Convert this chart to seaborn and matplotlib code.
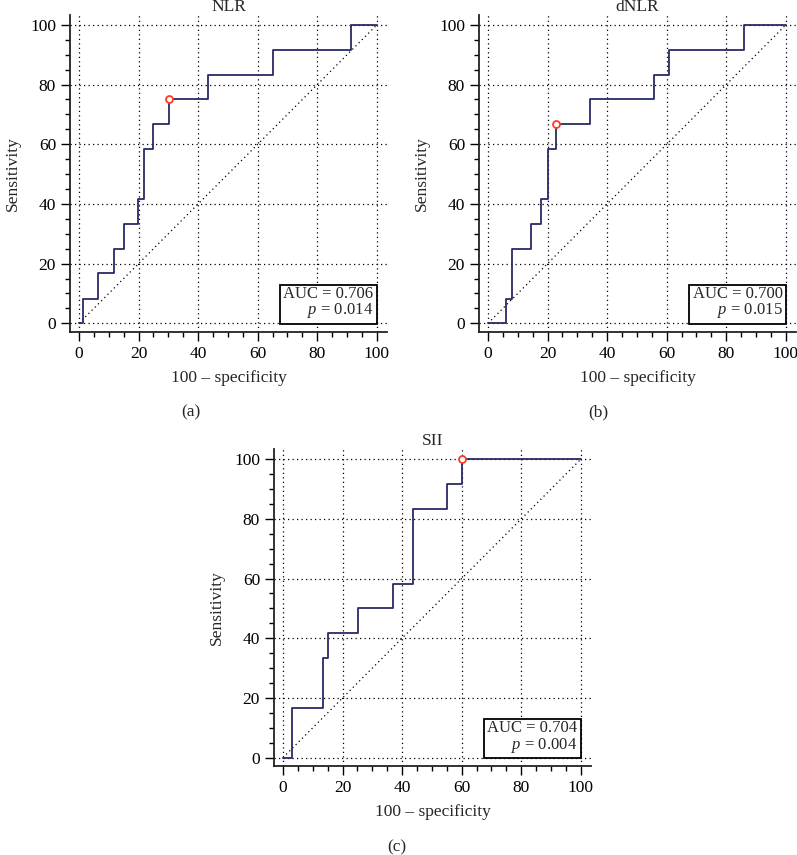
import numpy as np
import pandas as pd
import matplotlib
matplotlib.use("Agg")
import matplotlib.pyplot as plt
from matplotlib.ticker import MultipleLocator
import seaborn as sns

# ROC step coordinates (100 - specificity, sensitivity)
nlr_fpr = [0, 1.5, 6.5, 11.7, 15.1, 19.7, 21.8, 24.9, 30.1, 43.3, 65.0, 91.4, 100]
nlr_tpr = [0, 8.3, 16.7, 25.0, 33.3, 41.7, 58.3, 66.7, 75.0, 83.3, 91.7, 100, 100]

dnlr_fpr = [0, 6.1, 8.1, 14.6, 17.9, 20.1, 23.0, 34.4, 55.8, 60.8, 85.9, 100]
dnlr_tpr = [0, 8.3, 25.0, 33.3, 41.7, 58.3, 66.7, 75.0, 83.3, 91.7, 100, 100]

sii_fpr = [0, 3.2, 13.5, 15.2, 25.3, 37.0, 43.7, 55.1, 60.1, 100]
sii_tpr = [0, 16.7, 33.3, 41.7, 50.0, 58.3, 83.3, 91.7, 100, 100]

# optimal cut-off points (red circles)
cut_x = [30.1, 23.0, 60.1]
cut_y = [75.0, 66.7, 100.0]

titles = ["NLR", "dNLR", "SII"]
auc_vals = ["0.706", "0.700", "0.704"]
p_vals = ["0.014", "0.015", "0.004"]
panel_tags = ["(a)", "(b)", "(c)"]

sns.set_theme(style="ticks")
plt.rcParams["font.family"] = ["Liberation Serif", "DejaVu Serif"]
plt.rcParams["mathtext.fontset"] = "custom"
plt.rcParams["mathtext.rm"] = "Liberation Serif"
plt.rcParams["mathtext.it"] = "Liberation Serif:italic"

fs = 12.5

fig = plt.figure(figsize=(7.97, 8.55), dpi=100)
W, H = 797.0, 855.0
aw, ah = 317 / W, 317 / H
axes = [
    fig.add_axes([70 / W, 1 - 331.7 / H, aw, ah]),
    fig.add_axes([479 / W, 1 - 331.7 / H, aw, ah]),
    fig.add_axes([274 / W, 1 - 766 / H, aw, ah]),
]

curves = [(nlr_fpr, nlr_tpr), (dnlr_fpr, dnlr_tpr), (sii_fpr, sii_tpr)]
line_col = "#272a66"
dot_style = (0, (1, 2.6))

for i, ax in enumerate(axes):
    fpr, tpr = curves[i]
    df = pd.DataFrame({"fpr": fpr, "tpr": tpr})

    # dotted grid at the major ticks
    for v in range(0, 101, 20):
        ax.axvline(v, color="black", lw=0.9, ls=dot_style, zorder=0)
        ax.axhline(v, color="black", lw=0.9, ls=dot_style, zorder=0)

    # chance diagonal
    ax.plot([0, 100], [0, 100], color="black", lw=0.9, ls=dot_style, zorder=1)

    sns.lineplot(data=df, x="fpr", y="tpr", ax=ax, estimator=None, sort=False,
                 drawstyle="steps-post", color=line_col, lw=1.3, zorder=3)
    ax.plot(cut_x[i], cut_y[i], "o", ms=5, mfc="white", mec="#ff3b1f",
            mew=1.3, zorder=4)

    ax.set_xlim(-3.0, 103.4)
    ax.set_ylim(-2.8, 103.4)
    ax.xaxis.set_major_locator(MultipleLocator(20))
    ax.yaxis.set_major_locator(MultipleLocator(20))
    ax.xaxis.set_minor_locator(MultipleLocator(5))
    ax.yaxis.set_minor_locator(MultipleLocator(5))
    ax.tick_params(which="major", length=6.5, width=1, color="black",
                   labelsize=fs, pad=3.5, labelcolor="black")
    ax.tick_params(which="minor", length=3.6, width=1, color="black")
    sns.despine(ax=ax)
    for s in ["left", "bottom"]:
        ax.spines[s].set_linewidth(1.3)
        ax.spines[s].set_color("#222222")

    ax.set_title(titles[i], fontsize=fs, pad=3)
    ax.set_xlabel("100 \u2013 specificity", fontsize=fs, labelpad=6)
    ax.set_ylabel("Sensitivity", fontsize=fs, labelpad=7)

    ax.text(98.9, 1.0, f"AUC = {auc_vals[i]}\n$p$ = {p_vals[i]}",
            ha="right", va="bottom", multialignment="right", fontsize=12,
            linespacing=0.95, zorder=5,
            bbox=dict(boxstyle="square,pad=0.2", fc="white", ec="black", lw=1.3))

fig.text(191 / W, 1 - 412 / H, panel_tags[0], ha="center", va="center", fontsize=fs)
fig.text(598 / W, 1 - 412 / H, panel_tags[1], ha="center", va="center", fontsize=fs)
fig.text(397 / W, 1 - 847 / H, panel_tags[2], ha="center", va="center", fontsize=fs)

fig.savefig("out.png", dpi=100, facecolor="white")
